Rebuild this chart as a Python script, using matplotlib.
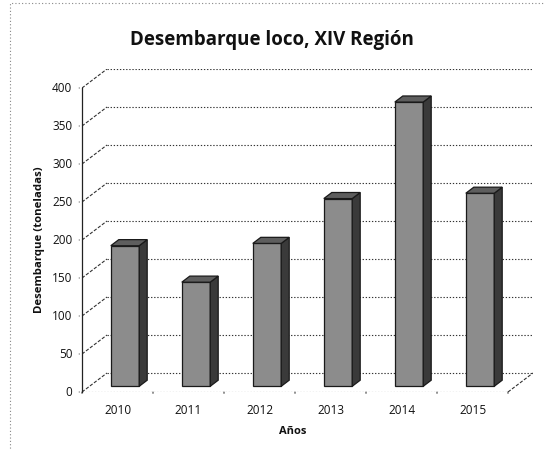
import matplotlib
matplotlib.use("Agg")
import matplotlib.pyplot as plt
from matplotlib.patches import Polygon, Rectangle

years = ["2010", "2011", "2012", "2013", "2014", "2015"]
values = [185, 137, 188, 247, 374, 254]
yticks = [0, 50, 100, 150, 200, 250, 300, 350, 400]
title = "Desembarque loco, XIV Región"
ylabel = "Desembarque (toneladas)"
xlabel = "Años"

FONT = ["Open Sans", "DejaVu Sans"]
plt.rcParams["font.family"] = FONT

W, H = 545, 450
fig = plt.figure(figsize=(W / 100, H / 100), dpi=100)
fig.patch.set_facecolor("white")

# oblique depth in data units
DX = 0.352   # depth offset in category units
DY = 25.0    # depth offset in value units
n = len(years)
x0, x1 = -0.5, n - 0.5
ymax = yticks[-1]

ax = fig.add_axes([82 / W, 58 / H, 451 / W, 323 / H])
ax.set_xlim(x0, x1 + DX)
ax.set_ylim(0, ymax + DY)
ax.axis("off")

grid_kw = dict(color="#333333", lw=0.8, linestyle=(0, (1.2, 1.6)), zorder=1)
for v in yticks:
    # side wall diagonal
    ax.plot([x0, x0 + DX], [v, v + DY], color="#333333", lw=0.8,
            linestyle=(0, (3, 1.5)), zorder=1)
    # back wall gridline
    ax.plot([x0 + DX, x1 + DX], [v + DY, v + DY], **grid_kw)

# floor edges
ax.plot([x0, x1], [0, 0], **grid_kw)
ax.plot([x1, x1 + DX], [0, DY], color="#333333", lw=0.8,
        linestyle=(0, (3, 1.5)), zorder=1)

# front vertical axis and ticks
ax.plot([x0, x0], [0, ymax], color="#222222", lw=0.9, zorder=2, clip_on=False)
for v in yticks:
    ax.annotate("", xy=(x0, v), xytext=(-4, 0), textcoords="offset points",
                arrowprops=dict(arrowstyle="-", color="#222222", lw=0.8),
                annotation_clip=False)
    ax.annotate(str(v), xy=(x0, v), xytext=(-7, 0), textcoords="offset points",
                ha="right", va="center", fontsize=8.5, color="#111111",
                annotation_clip=False)
for i in range(n + 1):
    ax.annotate("", xy=(x0 + i, 0), xytext=(0, -3), textcoords="offset points",
                arrowprops=dict(arrowstyle="-", color="#222222", lw=0.7),
                annotation_clip=False)

# bars
bw = 0.4
d_front, d_back = 0.3, 0.62
for i, v in enumerate(values):
    xl = i - bw / 2 + d_front * DX
    xr = xl + bw
    yb = d_front * DY
    yt = v + d_front * DY
    ddx = (d_back - d_front) * DX
    ddy = (d_back - d_front) * DY
    front = Polygon([(xl, yb), (xr, yb), (xr, yt), (xl, yt)], closed=True,
                    facecolor="#8c8c8c", edgecolor="#1a1a1a", lw=0.9, zorder=5)
    side = Polygon([(xr, yb), (xr + ddx, yb + ddy), (xr + ddx, yt + ddy), (xr, yt)],
                   closed=True, facecolor="#3a3a3a", edgecolor="#1a1a1a", lw=0.9, zorder=5)
    top = Polygon([(xl, yt), (xr, yt), (xr + ddx, yt + ddy), (xl + ddx, yt + ddy)],
                  closed=True, facecolor="#5e5e5e", edgecolor="#1a1a1a", lw=0.9, zorder=5)
    for p in (front, side, top):
        ax.add_patch(p)
    ax.annotate(years[i], xy=(i, 0), xytext=(0, -9), textcoords="offset points",
                ha="center", va="top", fontsize=8.5, color="#111111",
                annotation_clip=False)

# labels
fig.text(272 / W, 1 - 40 / H, title, ha="center", va="center",
         fontsize=13.5, fontweight="bold", color="#111111")
fig.text(40 / W, 1 - 240 / H, ylabel, ha="center", va="center", rotation=90,
         fontsize=8.2, fontweight="bold", color="#111111")
fig.text(293 / W, 1 - 431 / H, xlabel, ha="center", va="center",
         fontsize=8, fontweight="bold", color="#111111")

# dotted outer border of the chart area
fig.patches.append(Rectangle((10 / W, -0.01), 1.1, 1 - 3 / H + 0.01,
                             transform=fig.transFigure, fill=False,
                             edgecolor="#888888", lw=0.8, linestyle=(0, (1, 2))))

fig.savefig("out.png", dpi=100, facecolor="white")
